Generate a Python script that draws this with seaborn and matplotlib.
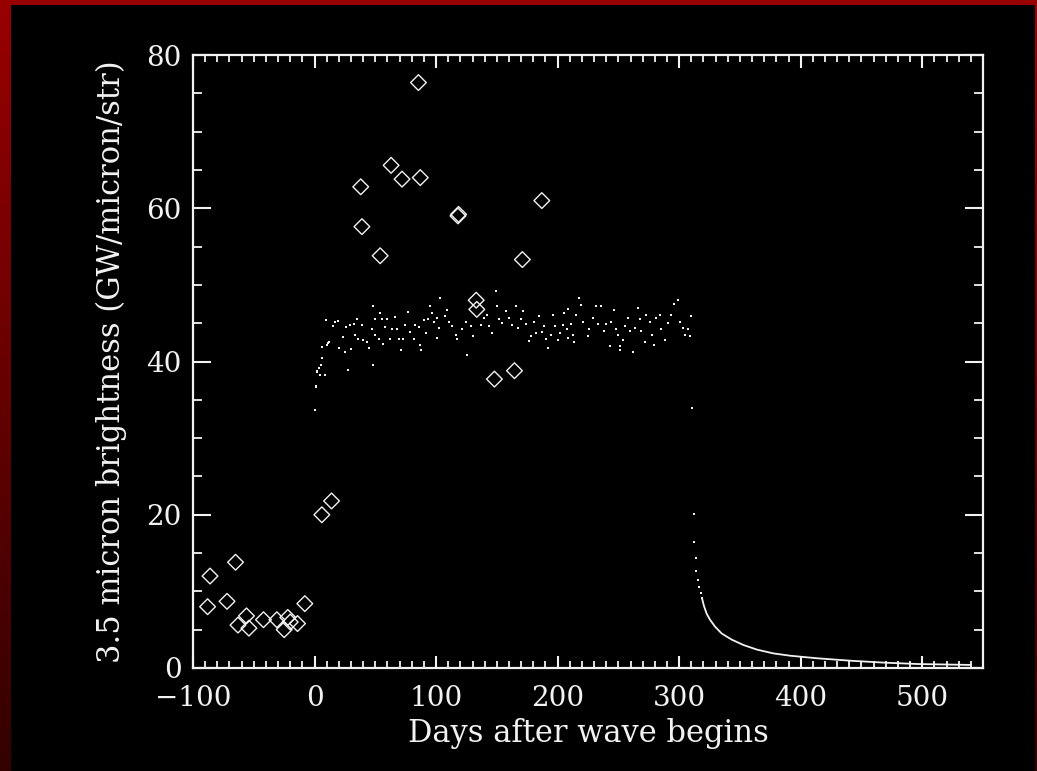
import numpy as np
import matplotlib
matplotlib.use("Agg")
import matplotlib.pyplot as plt
import seaborn as sns
from matplotlib.ticker import MultipleLocator

# Ground-based 3.5 micron measurements (diamonds)
obs_days = [-88, -86, -72, -65, -63, -56, -54, -42, -31, -25, -22, -20, -14, -8,
            6, 14, 38, 39, 54, 63, 72, 85.5, 87, 118, 118.5, 133, 133.5, 148, 164.5, 171, 187]
obs_vals = [8.0, 12.0, 8.7, 13.8, 5.6, 6.8, 5.2, 6.3, 6.3, 5.0, 6.6, 6.0, 5.8, 8.4,
            20.0, 21.8, 62.8, 57.6, 53.8, 65.6, 63.8, 76.4, 64.0, 59.0, 59.2, 48.0, 46.8, 37.7, 38.8, 53.3, 61.0]

# Model brightness during the wave (small dots)
wave_days = [0, 1.1, 1.4, 1.7, 2.0, 3.6, 4.4, 5.0, 6.4, 6.4, 8.3, 9.4, 9.9, 11.0, 12.2, 14.9, 16.8,
             19.5, 20.4, 23.5, 24.8, 26.2, 27.9, 29.5, 30.0, 32.3, 33.3, 34.7, 36.1, 38.8, 40.2,
             43.0, 44.4, 47.1, 47.7, 48.0, 49.9, 49.9, 52.7, 54.0, 55.4, 56.2, 58.1, 59.5, 61.7,
             63.6, 66.4, 67.8, 69.2, 71.1, 72.8, 74.7, 76.6, 78.3, 81.6, 83.0, 85.7, 87.1, 87.7,
             89.9, 91.3, 93.2, 95.4, 96.8, 98.7, 100.9, 100.9, 102.2, 103.6, 107.7, 109.1, 110.5,
             113.3, 116.8, 117.4, 121.5, 124.3, 125.6, 128.4, 130.6, 136.7, 139.4, 142.2, 143.6,
             146.3, 149.1, 150.4, 151.8, 154.6, 157.3, 160.1, 162.8, 165.6, 167.0, 169.7, 171.9,
             173.9, 176.6, 178.0, 180.2, 182.1, 184.9, 186.8, 189.0, 190.4, 191.8, 194.5, 195.9,
             197.8, 200.0, 202.2, 204.2, 205.5, 207.7, 208.3, 208.3, 211.0, 212.4, 213.8, 215.1,
             217.9, 219.3, 220.7, 224.8, 226.2, 228.9, 231.7, 233.0, 235.8, 238.0, 239.9, 242.7,
             244.1, 246.3, 248.2, 249.6, 251.0, 251.5, 253.7, 255.1, 257.8, 259.2, 262.0, 263.4,
             266.1, 267.5, 268.9, 271.6, 273.0, 275.7, 277.7, 279.3, 281.3, 284.0, 285.4, 288.1,
             290.9, 293.6, 295.9, 299.2, 300.5, 303.3, 305.2, 307.4, 308.8, 309.6]
wave_vals = [33.7, 36.7, 36.8, 38.6, 38.7, 39.1, 38.2, 39.6, 40.4, 41.9, 38.3, 45.4, 42.1, 42.4, 42.5, 44.6, 45.2,
             45.3, 41.7, 43.2, 41.3, 44.5, 38.9, 44.8, 41.6, 44.9, 43.4, 45.6, 43.0, 44.7, 42.8,
             42.6, 41.7, 44.2, 39.6, 47.2, 45.5, 43.5, 42.9, 46.3, 45.6, 42.3, 44.5, 45.6, 43.0,
             44.3, 45.8, 44.3, 43.0, 41.5, 43.0, 44.8, 46.4, 43.9, 43.0, 44.8, 44.5, 42.1, 41.5,
             45.4, 43.7, 45.6, 47.2, 46.3, 45.2, 43.1, 45.7, 44.4, 48.3, 45.9, 46.7, 45.2,
             44.6, 43.5, 42.9, 44.2, 45.2, 40.8, 44.6, 43.3, 44.8, 45.7, 46.1, 44.6,
             43.7, 49.2, 47.2, 45.5, 45.0, 46.6, 45.7, 44.8, 47.2, 44.4, 45.5, 46.6,
             44.9, 42.7, 43.3, 45.2, 43.7, 45.9, 43.9, 44.6, 43.0, 41.7, 43.5, 46.1,
             44.6, 42.8, 43.7, 44.8, 46.3, 44.2, 43.1, 46.9, 44.9, 43.5, 42.6, 46.1,
             48.3, 47.4, 45.2, 43.3, 44.2, 45.7, 47.2, 44.9, 47.2, 44.0, 44.9, 42.0,
             45.1, 46.7, 44.2, 43.5, 42.0, 41.5, 42.8, 44.6, 45.7, 44.0, 41.3, 44.4,
             47.0, 45.5, 44.0, 42.6, 46.1, 45.2, 43.5, 42.2, 45.7, 46.1, 44.2, 42.8,
             45.0, 46.1, 47.5, 48.0, 45.2, 44.4, 43.5, 44.2, 43.3, 45.9]

# Fading after the wave ends
decay_days = [310.7, 312.4, 312.4, 313.8, 313.8, 315.5, 316.6, 317.7, 318.8, 320.4, 322.6, 325.4,
              329.5, 335.0, 343.3, 352.9, 364.0, 377.7, 391.5, 413.5, 441.0, 468.6, 496.0, 540.0]
decay_vals = [33.9, 20.1, 16.4, 14.3, 12.7, 11.5, 10.6, 9.8, 9.1, 8.1, 7.1, 6.3,
              5.4, 4.5, 3.7, 3.0, 2.4, 1.9, 1.6, 1.27, 0.95, 0.7, 0.52, 0.4]
tail_start = 8  # from here on the daily points merge into a continuous curve

x_label = "Days after wave begins"
y_label = "3.5 micron brightness (GW/micron/str)"

sns.set_theme(style="dark")
ink = "#f2f2f2"
plt.rcParams["font.family"] = ["DejaVu Serif"]
plt.rcParams["axes.unicode_minus"] = True

W, H = 1037, 771
fig = plt.figure(figsize=(W / 100, H / 100), dpi=100)
fig.patch.set_facecolor("black")

# Red frame fading downwards, black panel inside
bg = fig.add_axes([0, 0, 1, 1], zorder=-10)
rows = np.linspace(0.60, 0.20, H)[:, None] * np.ones((1, W))
img = np.zeros((H, W, 3))
img[..., 0] = rows
inner = np.zeros((H, W), dtype=bool)
inner[5:, 11:W - 2] = True
img[inner] = 0.0
bg.imshow(img, aspect="auto", interpolation="nearest")
bg.set_axis_off()

ax = fig.add_axes([193 / W, 1 - 668 / H, (983 - 193) / W, (668 - 55) / H])
ax.set_facecolor("black")

sns.scatterplot(x=wave_days, y=wave_vals, ax=ax, marker="s", s=3.5, color=ink,
                linewidth=0, legend=False)
sns.scatterplot(x=decay_days[:tail_start + 1], y=decay_vals[:tail_start + 1], ax=ax,
                marker="s", s=3.5, color=ink, linewidth=0, legend=False)
sns.lineplot(x=decay_days[tail_start:], y=decay_vals[tail_start:], ax=ax, color=ink,
             linewidth=1.3, estimator=None, sort=False, legend=False)
sns.scatterplot(x=obs_days, y=obs_vals, ax=ax, marker="D", s=64,
                facecolor="none", edgecolor=ink, linewidth=1.0, legend=False)
ax.collections[-1].set_facecolor("none")

ax.set_xlim(-100, 550)
ax.set_ylim(0, 80)
ax.xaxis.set_major_locator(MultipleLocator(100))
ax.xaxis.set_minor_locator(MultipleLocator(10))
ax.yaxis.set_major_locator(MultipleLocator(20))
ax.yaxis.set_minor_locator(MultipleLocator(5))

for s in ax.spines.values():
    s.set_visible(True)
    s.set_color(ink)
    s.set_linewidth(1.6)
ax.grid(False)

ax.tick_params(axis="x", which="major", direction="in", length=9, width=1.5,
               colors=ink, top=True, bottom=True, labelsize=20, pad=12)
ax.tick_params(axis="x", which="minor", direction="in", length=5, width=1.3,
               colors=ink, top=True, bottom=True)
ax.tick_params(axis="y", which="major", direction="in", length=13, width=1.5,
               colors=ink, left=True, right=True, labelsize=20, pad=8)
ax.tick_params(axis="y", which="minor", direction="in", length=6.5, width=1.3,
               colors=ink, left=True, right=True)

ax.set_xlabel(x_label, fontsize=22, color=ink)
ax.set_ylabel(y_label, fontsize=22, color=ink)
ax.xaxis.set_label_coords(0.5, -0.082)
ax.yaxis.set_label_coords(-0.084, 0.5)

fig.savefig("out.png", dpi=100, facecolor=fig.get_facecolor())
